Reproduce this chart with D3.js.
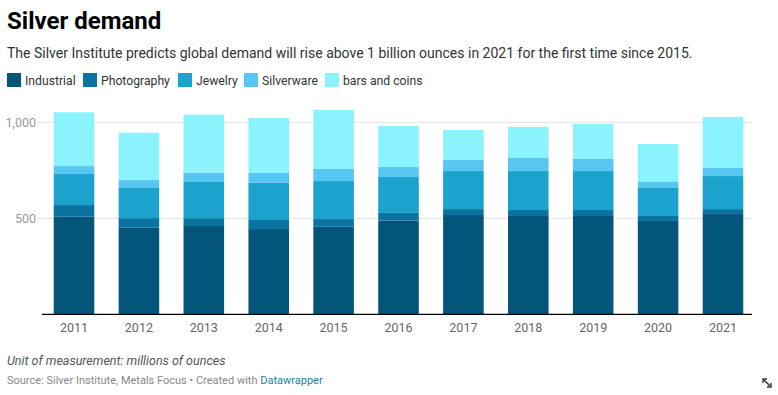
<!DOCTYPE html>
<html>
<head>
<meta charset="utf-8">
<script src="https://cdn.jsdelivr.net/npm/d3@7"></script>
<style>
  body { margin: 0; background: #fff; font-family: Roboto, sans-serif; }
  svg { display: block; }
</style>
</head>
<body>
<script>
const width = 778;
const height = 395;

// data (millions of ounces)
const years = ["2011","2012","2013","2014","2015","2016","2017","2018","2019","2020","2021"];
const seriesNames = ["Industrial","Photography","Jewelry","Silverware","bars and coins"];
const industrial  = [508, 451, 460, 444, 456, 488, 517, 512, 512, 486, 522];
const photography = [ 61,  50,  41,  47,  40,  40,  31,  31,  31,  26,  26];
const jewelry     = [162, 157, 188, 194, 198, 187, 198, 203, 203, 146, 172];
const silverware  = [ 41,  41,  49,  51,  63,  52,  58,  68,  63,  31,  42];
const barsCoins   = [280, 247, 302, 286, 307, 214, 156, 162, 182, 198, 266];
const yTicks = [500, 1000];
const colors = ["#03557a", "#0a73a0", "#1ba3cd", "#58c6f2", "#8af3fd"];

const svg = d3.select("body").append("svg").attr("width", width).attr("height", height);

// title + description
svg.append("text").attr("x", 7).attr("y", 29)
  .style("font-size", "24px").style("font-weight", 700).style("fill", "#000")
  .text("Silver demand");
svg.append("text").attr("x", 7).attr("y", 58)
  .style("font-size", "14px").style("fill", "#333")
  .text("The Silver Institute predicts global demand will rise above 1 billion ounces in 2021 for the first time since 2015.");

// legend
const legendX = [7, 83, 178, 244, 325];
const legend = svg.selectAll("g.legend")
  .data(seriesNames)
  .enter()
  .append("g")
  .attr("class", "legend")
  .attr("transform", (d, i) => `translate(${legendX[i]}, 73)`);
legend.append("rect").attr("width", 14).attr("height", 14).style("fill", (d, i) => colors[i]);
legend.append("text").attr("x", 18).attr("y", 11.5)
  .style("font-size", "12.2px").style("fill", "#333")
  .text(d => d);

// stack
const table = years.map((y, i) => ({
  year: y,
  "Industrial": industrial[i],
  "Photography": photography[i],
  "Jewelry": jewelry[i],
  "Silverware": silverware[i],
  "bars and coins": barsCoins[i]
}));
const stacked = d3.stack().keys(seriesNames)(table);

const x = d3.scaleBand().domain(years).range([44, 753]).paddingInner(0.375).paddingOuter(0.15);
const y = d3.scaleLinear().domain([0, 1000]).range([314.3, 122.3]);

// gridlines
svg.selectAll("line.grid")
  .data(yTicks)
  .enter()
  .append("line")
  .attr("class", "grid")
  .attr("x1", 38).attr("x2", 752)
  .attr("y1", d => y(d)).attr("y2", d => y(d))
  .style("stroke", "#e3e3e3").style("stroke-width", 1);

svg.selectAll("text.ytick")
  .data(yTicks)
  .enter()
  .append("text")
  .attr("class", "ytick")
  .attr("x", 36).attr("y", d => y(d) + 4.5)
  .attr("text-anchor", "end")
  .style("font-size", "12.5px").style("fill", "#999")
  .text(d => d3.format(",")(d));

// bars
const layers = svg.selectAll("g.layer")
  .data(stacked)
  .enter()
  .append("g")
  .attr("class", "layer")
  .style("fill", (d, i) => colors[i]);

layers.selectAll("rect")
  .data(d => d)
  .enter()
  .append("rect")
  .attr("x", d => x(d.data.year))
  .attr("width", x.bandwidth())
  .attr("y", d => y(d[1]))
  .attr("height", d => y(d[0]) - y(d[1]));

// baseline
svg.append("line")
  .attr("x1", 42).attr("x2", 752)
  .attr("y1", y(0)).attr("y2", y(0))
  .style("stroke", "#000").style("stroke-width", 1.2);

// x labels
svg.selectAll("text.xtick")
  .data(years)
  .enter()
  .append("text")
  .attr("class", "xtick")
  .attr("x", d => x(d) + x.bandwidth() / 2)
  .attr("y", 332)
  .attr("text-anchor", "middle")
  .style("font-size", "12.5px").style("fill", "#666")
  .text(d => d);

// notes + source
svg.append("text").attr("x", 7).attr("y", 365)
  .style("font-size", "12.5px").style("font-style", "italic").style("fill", "#555")
  .text("Unit of measurement: millions of ounces");
const src = svg.append("text").attr("x", 7).attr("y", 384)
  .style("font-size", "11px").style("fill", "#888");
src.append("tspan").text("Source: Silver Institute, Metals Focus • Created with ");
src.append("tspan").style("fill", "#1d81a2").text("Datawrapper");

// little resize icon bottom right
const icon = svg.append("g").attr("transform", "translate(767, 383)")
  .style("stroke", "#333").style("stroke-width", 1.6).style("fill", "none");
icon.append("line").attr("x1", -3).attr("y1", -3).attr("x2", 3).attr("y2", 3);
icon.append("path").attr("d", "M-4,0 L-4,-4 L0,-4").style("stroke-width", 1.4);
icon.append("path").attr("d", "M4,0 L4,4 L0,4").style("stroke-width", 1.4);
</script>
</body>
</html>
